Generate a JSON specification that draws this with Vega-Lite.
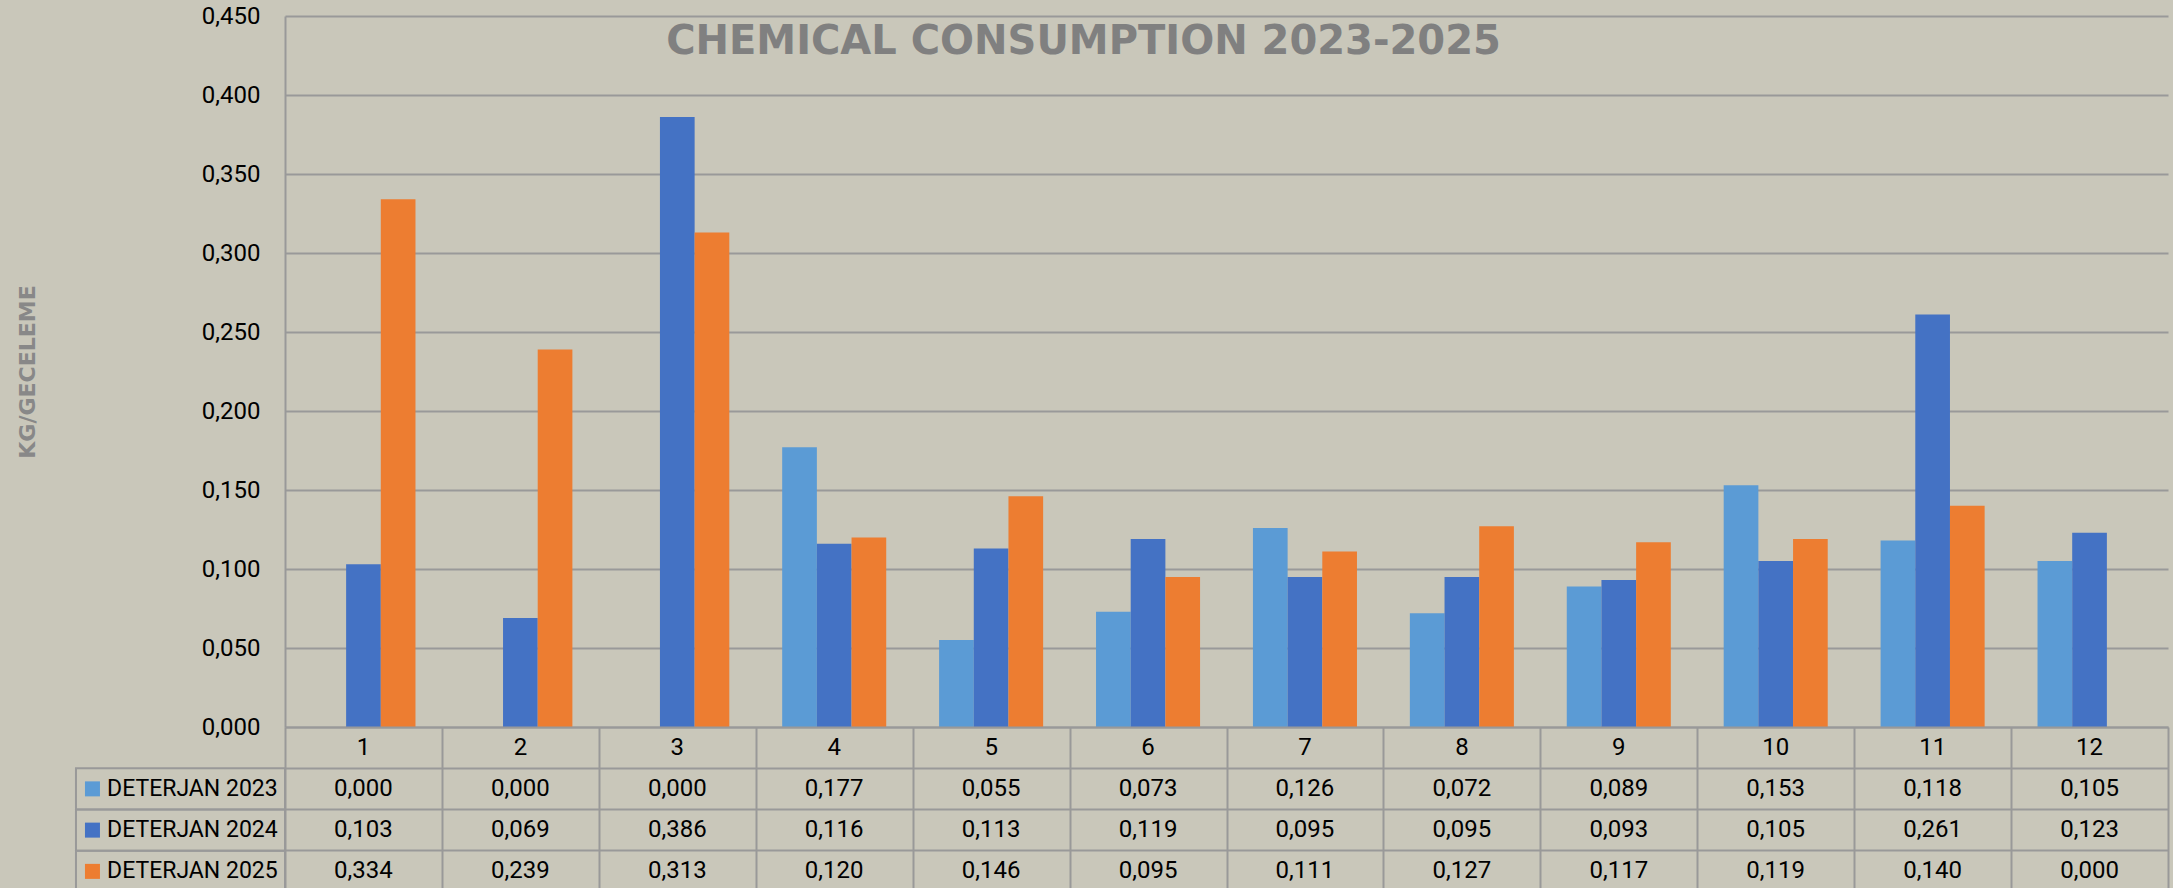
{
  "$schema": "https://vega.github.io/schema/vega-lite/v6.json",
  "background": "#C9C7BA",
  "padding": {"left": 16, "top": 4, "right": 5, "bottom": 0},
  "config": {
    "view": {"stroke": null},
    "locale": {"number": {"decimal": ",", "thousands": ".", "grouping": [3], "currency": ["", ""]}},
    "text": {"font": "Roboto"}
  },
  "datasets": {
    "chem": [
      {"month": 1, "series": "DETERJAN 2023", "value": 0.000},
      {"month": 2, "series": "DETERJAN 2023", "value": 0.000},
      {"month": 3, "series": "DETERJAN 2023", "value": 0.000},
      {"month": 4, "series": "DETERJAN 2023", "value": 0.177},
      {"month": 5, "series": "DETERJAN 2023", "value": 0.055},
      {"month": 6, "series": "DETERJAN 2023", "value": 0.073},
      {"month": 7, "series": "DETERJAN 2023", "value": 0.126},
      {"month": 8, "series": "DETERJAN 2023", "value": 0.072},
      {"month": 9, "series": "DETERJAN 2023", "value": 0.089},
      {"month": 10, "series": "DETERJAN 2023", "value": 0.153},
      {"month": 11, "series": "DETERJAN 2023", "value": 0.118},
      {"month": 12, "series": "DETERJAN 2023", "value": 0.105},
      {"month": 1, "series": "DETERJAN 2024", "value": 0.103},
      {"month": 2, "series": "DETERJAN 2024", "value": 0.069},
      {"month": 3, "series": "DETERJAN 2024", "value": 0.386},
      {"month": 4, "series": "DETERJAN 2024", "value": 0.116},
      {"month": 5, "series": "DETERJAN 2024", "value": 0.113},
      {"month": 6, "series": "DETERJAN 2024", "value": 0.119},
      {"month": 7, "series": "DETERJAN 2024", "value": 0.095},
      {"month": 8, "series": "DETERJAN 2024", "value": 0.095},
      {"month": 9, "series": "DETERJAN 2024", "value": 0.093},
      {"month": 10, "series": "DETERJAN 2024", "value": 0.105},
      {"month": 11, "series": "DETERJAN 2024", "value": 0.261},
      {"month": 12, "series": "DETERJAN 2024", "value": 0.123},
      {"month": 1, "series": "DETERJAN 2025", "value": 0.334},
      {"month": 2, "series": "DETERJAN 2025", "value": 0.239},
      {"month": 3, "series": "DETERJAN 2025", "value": 0.313},
      {"month": 4, "series": "DETERJAN 2025", "value": 0.120},
      {"month": 5, "series": "DETERJAN 2025", "value": 0.146},
      {"month": 6, "series": "DETERJAN 2025", "value": 0.095},
      {"month": 7, "series": "DETERJAN 2025", "value": 0.111},
      {"month": 8, "series": "DETERJAN 2025", "value": 0.127},
      {"month": 9, "series": "DETERJAN 2025", "value": 0.117},
      {"month": 10, "series": "DETERJAN 2025", "value": 0.119},
      {"month": 11, "series": "DETERJAN 2025", "value": 0.140},
      {"month": 12, "series": "DETERJAN 2025", "value": 0.000}
    ]
  },
  "spacing": 0,
  "bounds": "flush",
  "vconcat": [
    {
      "width": 1883,
      "height": 711,
      "data": {"name": "chem"},
      "title": {
        "text": "CHEMICAL CONSUMPTION 2023-2025",
        "font": "DejaVu Sans",
        "fontSize": 40,
        "fontWeight": "bold",
        "color": "#808080",
        "anchor": "middle",
        "dx": -143,
        "offset": -58
      },
      "mark": {"type": "bar"},
      "encoding": {
        "x": {
          "field": "month",
          "type": "ordinal",
          "scale": {"paddingInner": 0.337, "paddingOuter": 0.1685},
          "axis": null
        },
        "xOffset": {
          "field": "series",
          "type": "nominal",
          "scale": {"paddingInner": 0, "paddingOuter": 0}
        },
        "y": {
          "field": "value",
          "type": "quantitative",
          "scale": {"domain": [0, 0.45], "nice": false, "zero": true},
          "axis": {
            "values": [0, 0.05, 0.1, 0.15, 0.2, 0.25, 0.3, 0.35, 0.4, 0.45],
            "format": ".3f",
            "labelFont": "Roboto",
            "labelFontSize": 24,
            "labelColor": "#000000",
            "labelPadding": 25,
            "ticks": false,
            "domainColor": "#999999",
            "domainWidth": 2,
            "gridColor": "#999999",
            "gridWidth": 2,
            "title": "KG/GECELEME",
            "titleFont": "DejaVu Sans",
            "titleFontSize": 22,
            "titleFontWeight": "bold",
            "titleColor": "#888888",
            "titlePadding": 162
          }
        },
        "color": {
          "field": "series",
          "type": "nominal",
          "scale": {
            "domain": ["DETERJAN 2023", "DETERJAN 2024", "DETERJAN 2025"],
            "range": ["#5B9BD5", "#4472C4", "#ED7D31"]
          },
          "legend": null
        }
      }
    },
    {
      "width": 1883,
      "height": 165,
      "data": {"name": "chem"},
      "encoding": {
        "y": {
          "field": "series",
          "type": "nominal",
          "scale": {
            "type": "band",
            "domain": ["M", "DETERJAN 2023", "DETERJAN 2024", "DETERJAN 2025"],
            "paddingInner": 0,
            "paddingOuter": 0
          },
          "axis": {
            "labels": false,
            "ticks": false,
            "domain": false,
            "title": null,
            "grid": true,
            "bandPosition": 0,
            "gridColor": "#999999",
            "gridWidth": 2
          }
        }
      },
      "layer": [
        {
          "mark": {"type": "text", "fontSize": 24, "color": "#000000", "baseline": "middle"},
          "encoding": {
            "x": {
              "field": "month",
              "type": "quantitative",
              "scale": {"domain": [0.5, 12.5], "nice": false, "zero": false},
              "axis": {
                "values": [0.5, 1.5, 2.5, 3.5, 4.5, 5.5, 6.5, 7.5, 8.5, 9.5, 10.5, 11.5, 12.5],
                "labels": false,
                "ticks": false,
                "domain": false,
                "title": null,
                "grid": true,
                "gridColor": "#999999",
                "gridWidth": 2
              }
            },
            "text": {"field": "value", "type": "quantitative", "format": ".3f"}
          }
        },
        {
          "transform": [{"filter": "datum.series === 'DETERJAN 2023'"}],
          "mark": {"type": "text", "fontSize": 24, "color": "#000000", "baseline": "middle"},
          "encoding": {
            "x": {"field": "month", "type": "quantitative"},
            "y": {"datum": "M"},
            "text": {"field": "month", "type": "nominal"}
          }
        },
        {
          "transform": [{"filter": "datum.month === 1"}],
          "mark": {"type": "rect", "fill": null, "fillOpacity": 0, "stroke": "#999999", "strokeWidth": 2},
          "encoding": {
            "x": {"datum": -0.832},
            "x2": {"datum": 0.5}
          }
        },
        {
          "transform": [{"filter": "datum.month === 1"}],
          "mark": {"type": "point", "shape": "square", "filled": true, "size": 225, "opacity": 1},
          "encoding": {
            "x": {"datum": -0.727},
            "color": {
              "field": "series",
              "type": "nominal",
              "scale": {
                "domain": ["DETERJAN 2023", "DETERJAN 2024", "DETERJAN 2025"],
                "range": ["#5B9BD5", "#4472C4", "#ED7D31"]
              },
              "legend": null
            }
          }
        },
        {
          "transform": [{"filter": "datum.month === 1"}],
          "mark": {"type": "text", "fontSize": 23, "color": "#000000", "align": "left", "baseline": "middle"},
          "encoding": {
            "x": {"datum": -0.634},
            "text": {"field": "series", "type": "nominal"}
          }
        }
      ]
    }
  ]
}
